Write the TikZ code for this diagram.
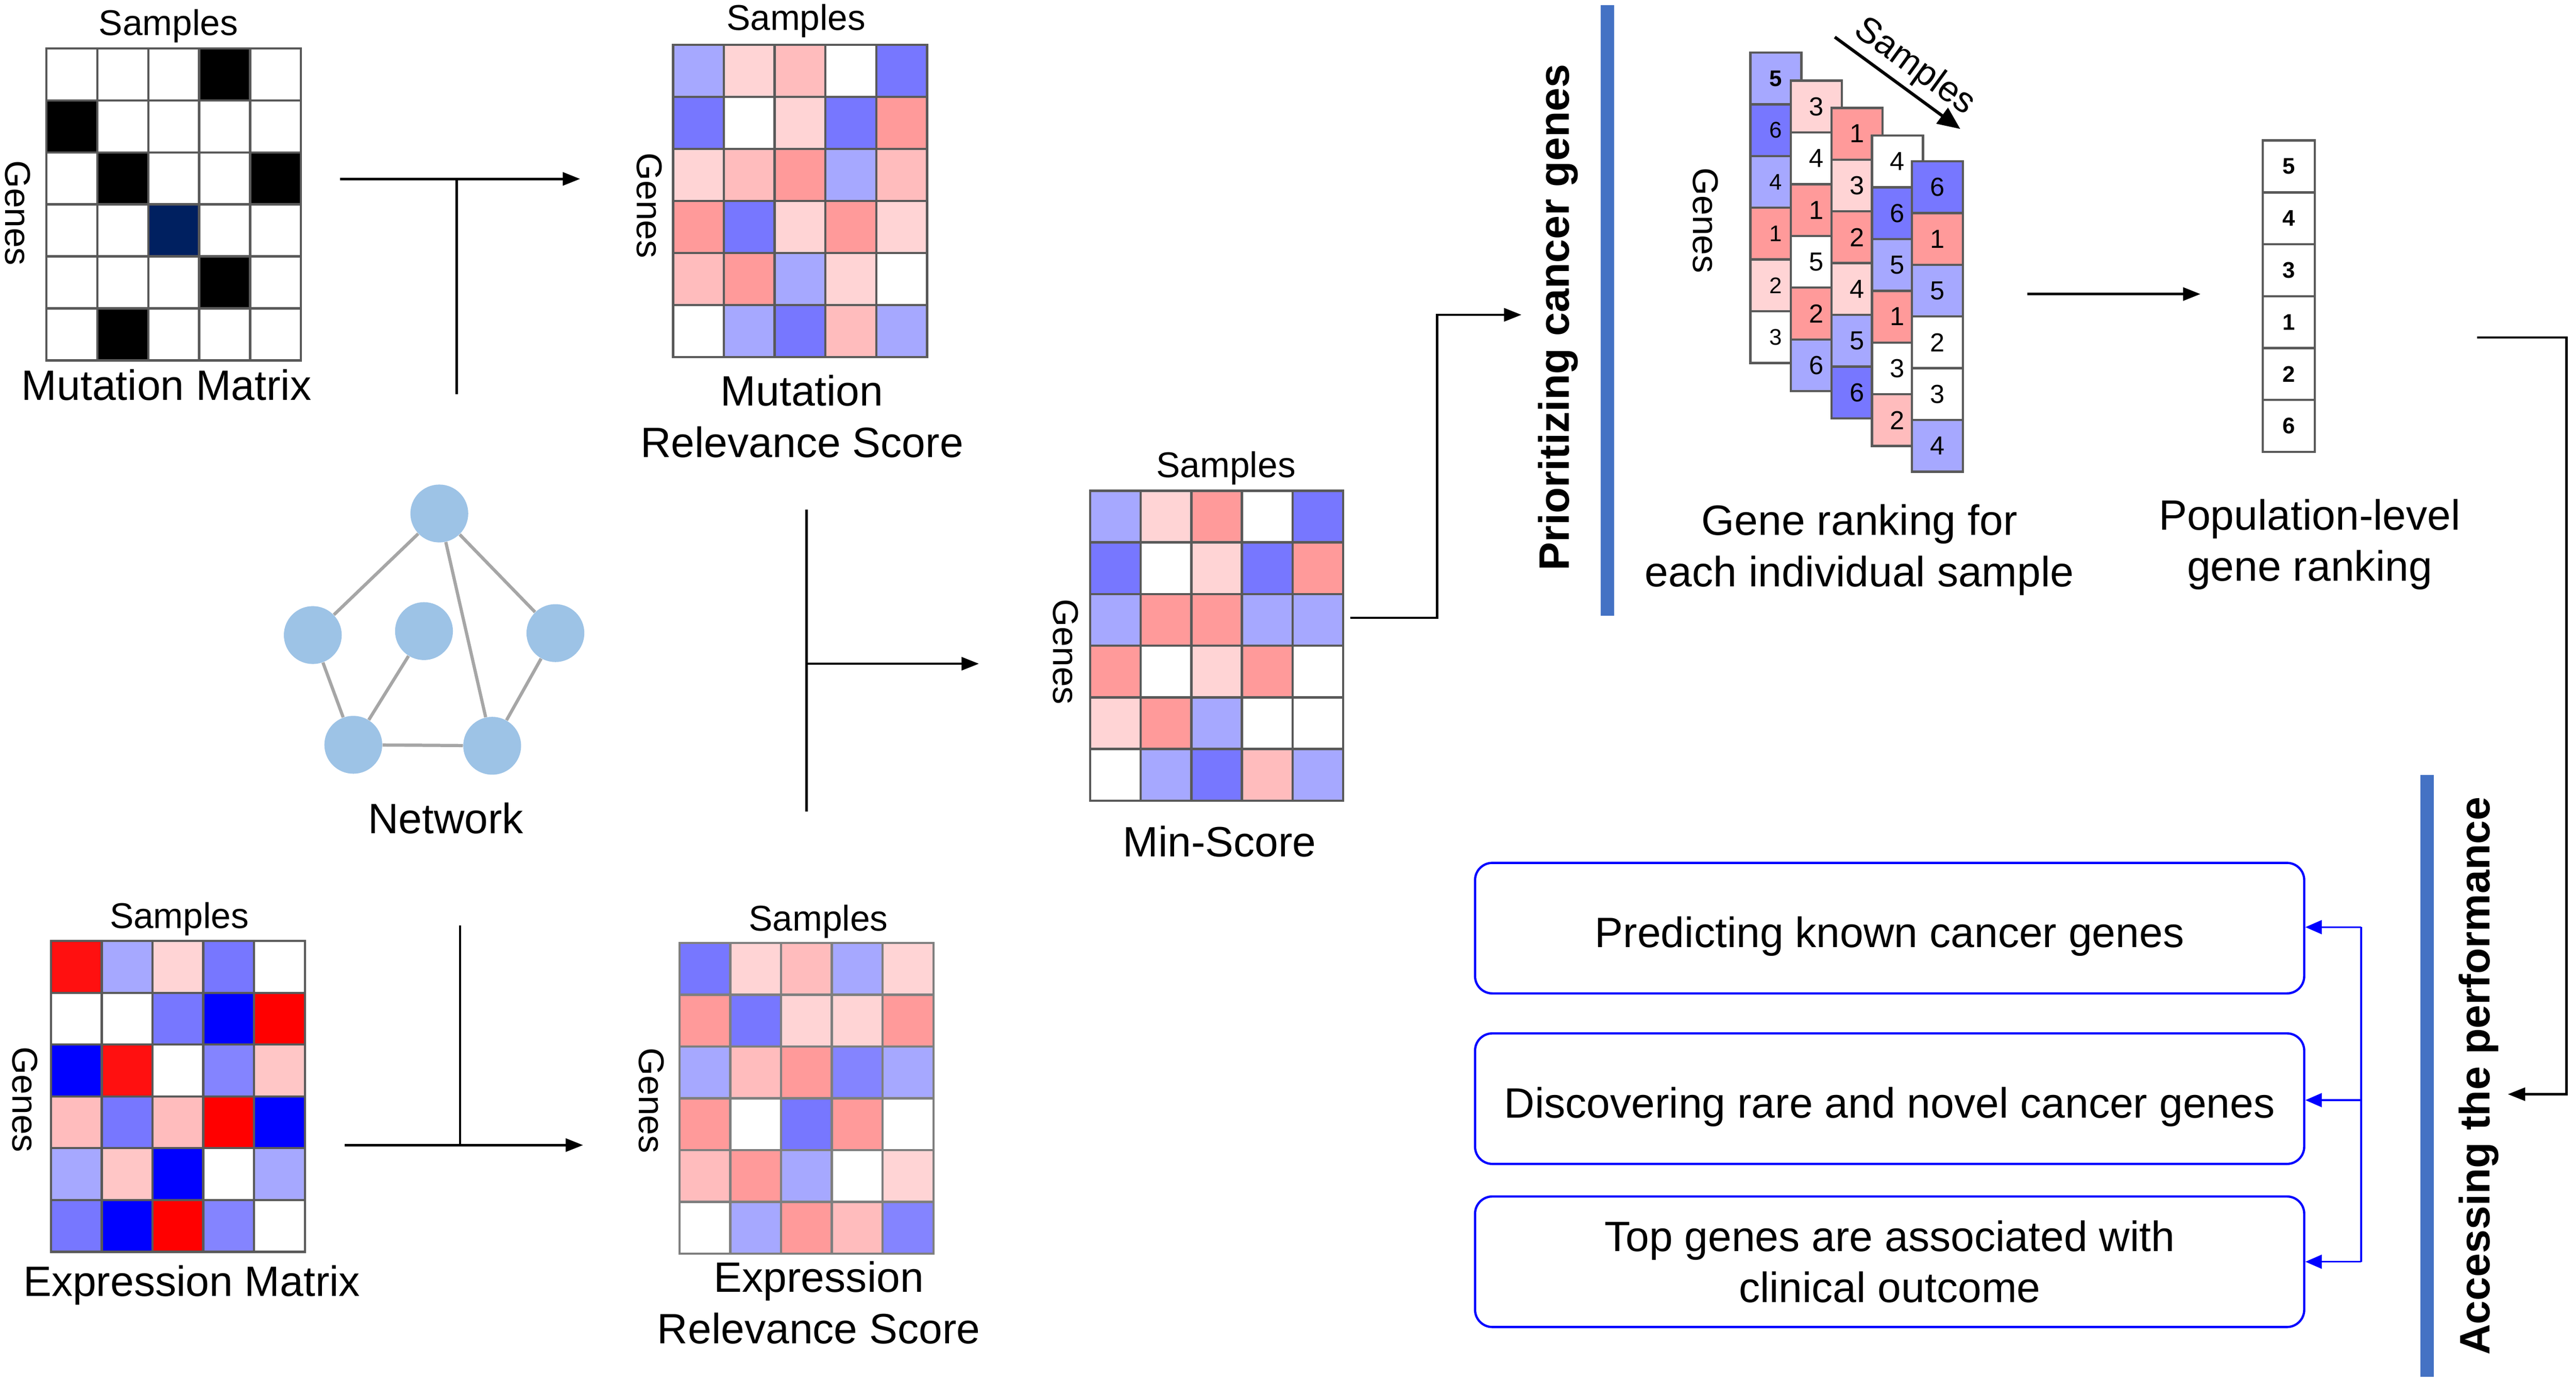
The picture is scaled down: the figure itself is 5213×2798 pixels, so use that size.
\documentclass[tikz,border=0pt]{standalone}
\usepackage{fontspec}
\setmainfont{Liberation Sans}
\usetikzlibrary{arrows.meta}
\definecolor{cLB}{HTML}{A6A8FF}
\definecolor{cB}{HTML}{7777FF}
\definecolor{cBb}{HTML}{8484FF}
\definecolor{cLP}{HTML}{FFD4D5}
\definecolor{cP}{HTML}{FFBCBD}
\definecolor{cPK}{HTML}{FFC6C6}
\definecolor{cS}{HTML}{FF9A9A}
\definecolor{cR}{HTML}{FF1010}
\definecolor{cRR}{HTML}{FF0000}
\definecolor{cPB}{HTML}{0000FF}
\definecolor{cN}{HTML}{002060}
\definecolor{cW}{HTML}{FFFFFF}
\definecolor{cK}{HTML}{000000}
\definecolor{gridgray}{HTML}{595959}
\definecolor{gridgrayb}{HTML}{7F7F7F}
\definecolor{netblue}{HTML}{9DC3E6}
\definecolor{netgray}{HTML}{A6A6A6}
\definecolor{barblue}{HTML}{4472C4}
\definecolor{boxblue}{HTML}{0000FF}
\tikzset{
  smp/.style={inner sep=0pt, font=\fontsize{20.6}{24}\selectfont},
  lbl/.style={inner sep=0pt, align=center, font=\fontsize{24.4}{29.6}\selectfont},
  ttl/.style={inner sep=0pt, font=\fontsize{24.5}{29}\selectfont\bfseries},
  netnode/.style={circle, fill=netblue, minimum size=1.17cm, inner sep=0pt},
  netedge/.style={draw=netgray, line width=1.85pt},
  conn/.style={line width=1.4pt},
  arr/.style={conn, -{Triangle[length=10pt, width=7.5pt]}},
  bconn/.style={draw=boxblue, line width=1pt},
  barr/.style={bconn, -{Triangle[length=9.5pt, width=8pt]}},
  tbox/.style={draw=boxblue, line width=1.3pt, rounded corners=0.35cm, minimum width=16.77cm, minimum height=2.64cm, inner sep=0pt, align=center, font=\fontsize{24.4}{29.3}\selectfont},
  cellnode/.style={draw=gridgray, line width=1.3pt, inner sep=0pt, minimum width=1.03cm, minimum height=1.047cm, anchor=north west},
  popcell/.style={cellnode, fill=white, minimum width=1.05cm, minimum height=1.05cm, font=\fontsize{13}{13}\selectfont\bfseries},
}
% #1 x0, #2 y0, #3 cell w, #4 cell h, #5 border colour, #6 rows of colours
\newcommand\heatmap[6]{%
  \foreach \rowlist [count=\rr from 0] in {#6} {%
    \foreach \cc [count=\kk from 0] in \rowlist {%
      \filldraw[fill=\cc, draw=#5, line width=1.3pt] ({#1+\kk*#3},{#2+\rr*#4}) rectangle ++(#3,#4);
    }%
  }%
}
% #1 name prefix, #2 x0, #3 y0, #4 font size, #5 list colour/number
\newcommand\rankstrip[5]{%
  \foreach \cc/\nn [count=\rr from 0] in {#5} {%
    \node[cellnode, fill=\cc, font=\fontsize{#4}{#4}\selectfont] (#1\rr) at ({#2},{#3+\rr*104.7}) {\nn};
  }%
}
\begin{document}
\begin{tikzpicture}[x=0.01cm, y=-0.01cm]
\useasboundingbox (0,0) rectangle (5213,2798);
\fill[white] (0,0) rectangle (5213,2798);

% ---------- Mutation matrix ----------
\heatmap{94}{98}{103}{105.2}{gridgray}{{cW,cW,cW,cK,cW},{cK,cW,cW,cW,cW},{cW,cK,cW,cW,cK},{cW,cW,cN,cW,cW},{cW,cW,cW,cK,cW},{cW,cK,cW,cW,cW}}
\node[smp, anchor=base] (mmS) at (341,71) {Samples};
\node[smp, rotate=-90] (mmG) at (36,431) {Genes};
\node[lbl, anchor=base] (mmT) at (337,810) {Mutation Matrix};

% ---------- Mutation relevance ----------
\heatmap{1362}{91}{102.8}{105.3}{gridgray}{{cLB,cLP,cP,cW,cB},{cB,cW,cLP,cB,cS},{cLP,cP,cS,cLB,cP},{cS,cB,cLP,cS,cLP},{cP,cS,cLB,cLP,cW},{cW,cLB,cB,cP,cLB}}
\node[smp, anchor=base] (mrS) at (1611,61) {Samples};
\node[smp, rotate=-90] (mrG) at (1314,416) {Genes};
\node[lbl, anchor=south] (mrT) at (1623,927) {Mutation\\Relevance Score};

% ---------- Expression matrix ----------
\heatmap{103}{1904}{102.8}{104.8}{gridgray}{{cR,cLB,cLP,cB,cW},{cW,cW,cB,cPB,cRR},{cPB,cR,cW,cBb,cPK},{cP,cB,cP,cRR,cPB},{cLB,cPK,cPB,cW,cLB},{cB,cPB,cRR,cBb,cW}}
\node[smp, anchor=base] (emS) at (363,1878) {Samples};
\node[smp, rotate=-90] (emG) at (51,2225) {Genes};
\node[lbl, anchor=base] (emT) at (388,2623) {Expression Matrix};

% ---------- Expression relevance ----------
\heatmap{1375}{1908}{102.8}{104.8}{gridgrayb}{{cB,cLP,cP,cLB,cLP},{cS,cB,cLP,cLP,cS},{cLB,cP,cS,cBb,cLB},{cS,cW,cB,cS,cW},{cP,cS,cLB,cW,cLP},{cW,cLB,cS,cP,cBb}}
\node[smp, anchor=base] (erS) at (1656,1883) {Samples};
\node[smp, rotate=-90] (erG) at (1318,2227) {Genes};
\node[lbl, anchor=south] (erT) at (1657,2720) {Expression\\Relevance Score};

% ---------- Min-score ----------
\heatmap{2206}{993}{102.4}{104.5}{gridgray}{{cLB,cLP,cS,cW,cB},{cB,cW,cLP,cB,cS},{cLB,cS,cS,cLB,cLB},{cS,cW,cLP,cS,cW},{cLP,cS,cLB,cW,cW},{cW,cLB,cB,cP,cLB}}
\node[smp, anchor=base] (msS) at (2481,966) {Samples};
\node[smp, rotate=-90] (msG) at (2156,1319) {Genes};
\node[lbl, anchor=base] (msT) at (2468,1733) {Min-Score};

% ---------- Network ----------
\node[netnode] (n1) at (889,1039) {};
\node[netnode] (n2) at (633,1285) {};
\node[netnode] (n3) at (858,1277) {};
\node[netnode] (n4) at (1124,1281) {};
\node[netnode] (n5) at (715,1507) {};
\node[netnode] (n6) at (996,1509) {};
\draw[netedge] (n1) -- (n2);
\draw[netedge] (n1) -- (n4);
\draw[netedge] (n1) -- (n6);
\draw[netedge] (n2) -- (n5);
\draw[netedge] (n3) -- (n5);
\draw[netedge] (n5) -- (n6);
\draw[netedge] (n4) -- (n6);
\node[lbl, anchor=base] (netT) at (902,1686) {Network};

% ---------- Connectors (left part) ----------
\coordinate (mA) at (688,362);
\coordinate (mB) at (1174,362);
\coordinate (mJ) at (924,362);
\coordinate (mV) at (924,798);
\draw[arr] (mA) -- (mB);
\draw[conn] (mJ) -- (mV);

\coordinate (eA) at (698,2317);
\coordinate (eB) at (1180,2317);
\coordinate (eJ) at (931,2317);
\coordinate (eV) at (931,1872);
\draw[arr] (eA) -- (eB);
\draw[conn] (eJ) -- (eV);

\coordinate (vT) at (1632,1031);
\coordinate (vBt) at (1632,1642);
\coordinate (vJ) at (1632,1343);
\coordinate (vE) at (1981,1343);
\draw[conn] (vT) -- (vBt);
\draw[arr] (vJ) -- (vE);

\coordinate (msA) at (2733,1250);
\coordinate (prK) at (2908,637);
\coordinate (prB) at (3079,637);
\draw[arr] (msA) -| (prK) -- (prB);

% ---------- Prioritizing ----------
\fill[barblue] (3239,10) rectangle (3266,1246);
\node[ttl, rotate=90, anchor=base] (prio) at (3175,642) {Prioritizing cancer genes};

% ---------- Per-sample rankings ----------
\rankstrip{sa}{3540}{104}{13}{cLB/\textbf{5},cB/6,cLB/4,cS/1,cLP/2,cW/3}
\rankstrip{sb}{3622}{161}{15}{cLP/3,cW/4,cS/1,cW/5,cS/2,cLB/6}
\rankstrip{sc}{3704}{216}{15}{cS/1,cLP/3,cS/2,cLP/4,cLB/5,cB/6}
\rankstrip{sd}{3786}{272}{15}{cW/4,cB/6,cLB/5,cS/1,cW/3,cP/2}
\rankstrip{se}{3867}{324}{15}{cB/6,cS/1,cLB/5,cW/2,cW/3,cLB/4}
\node[smp, rotate=-90] (grG) at (3451,446) {Genes};
\coordinate (saA) at (3713,75);
\coordinate (saB) at (3967,261);
\draw[line width=1.8pt, -{Triangle[length=13pt, width=11pt]}] (saA) -- (saB);
\node[smp, rotate=-36] (saT) at (3874,136) {Samples};
\node[lbl, anchor=north] (grT) at (3763,1020) {Gene ranking for\\each individual sample};

\coordinate (grA) at (4103,595);
\coordinate (grB) at (4453,595);
\draw[arr] (grA) -- (grB);

% ---------- Population ranking ----------
\foreach \nn [count=\rr from 0] in {5,4,3,1,2,6} {
  \node[popcell] (pop\rr) at (4577,{282+\rr*105}) {\nn};
}
\node[lbl, anchor=north] (popT) at (4674,1009) {Population-level\\gene ranking};

\coordinate (paA) at (5013,683);
\coordinate (paK) at (5194,2214);
\coordinate (paB) at (5075,2214);
\draw[arr] (paA) -| (paK) -- (paB);

% ---------- Accessing the performance ----------
\fill[barblue] (4898,1568) rectangle (4925,2786);
\node[ttl, rotate=90, anchor=base] (acc) at (5038,2177) {Accessing the performance};

\node[tbox, text height=22pt, text depth=0pt] (box1) at (3824,1878) {Predicting known cancer genes};
\node[tbox, text height=22pt, text depth=0pt] (box2) at (3824,2223) {Discovering rare and novel cancer genes};
\node[tbox] (box3) at (3824,2553) {Top genes are associated with\\clinical outcome};

\coordinate (bT) at (4778,1876);
\coordinate (bM) at (4778,2226);
\coordinate (bBt) at (4778,2553);
\draw[bconn] (bT) -- (bBt);
\draw[barr] (bT) -- (bT -| box1.east);
\draw[barr] (bM) -- (bM -| box2.east);
\draw[barr] (bBt) -- (bBt -| box3.east);
\end{tikzpicture}
\end{document}
